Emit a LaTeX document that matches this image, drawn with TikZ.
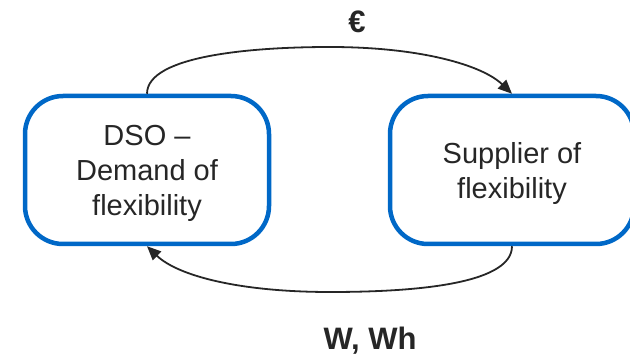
\documentclass[tikz,border=0pt]{standalone}
\usepackage{fontspec}
\setmainfont{Liberation Sans}
\usetikzlibrary{arrows.meta}
\definecolor{boxblue}{RGB}{0,104,199}
\definecolor{ink}{RGB}{38,38,38}
\begin{document}
\begin{tikzpicture}[x=1pt,y=-1pt,
  party/.style={draw=boxblue, line width=4.5pt, rounded corners=38pt,
    minimum width=244pt, minimum height=148pt, align=center,
    font=\fontsize{29}{35}\selectfont, text=ink, inner sep=0pt,
    text depth=-2pt},
  flow/.style={draw=ink, line width=1.8pt,
    -{Triangle[length=14pt,width=12pt]}},
  tag/.style={font=\fontsize{31}{34}\selectfont\bfseries, text=ink}]
\useasboundingbox (0,0) rectangle (630,358);
\node[party] (dso) at (147,170) {DSO –\\Demand of\\flexibility};
\node[party] (sup) at (512,170) {Supplier of\\flexibility};
% money flows from the DSO to the supplier
\draw[flow] (dso.north) .. controls (147,55) and (255,47) .. (330,47)
  .. controls (420,47) and (482,65) .. (sup.north);
% energy flows back from the supplier to the DSO
\draw[flow] (sup.south) .. controls (512,286) and (405,292) .. (330,292)
  .. controls (240,292) and (178,276) .. (dso.south);
\node[tag] (eur) at (357,22) {€};
\node[tag] (wwh) at (370,341) {W, Wh};
\end{tikzpicture}
\end{document}
